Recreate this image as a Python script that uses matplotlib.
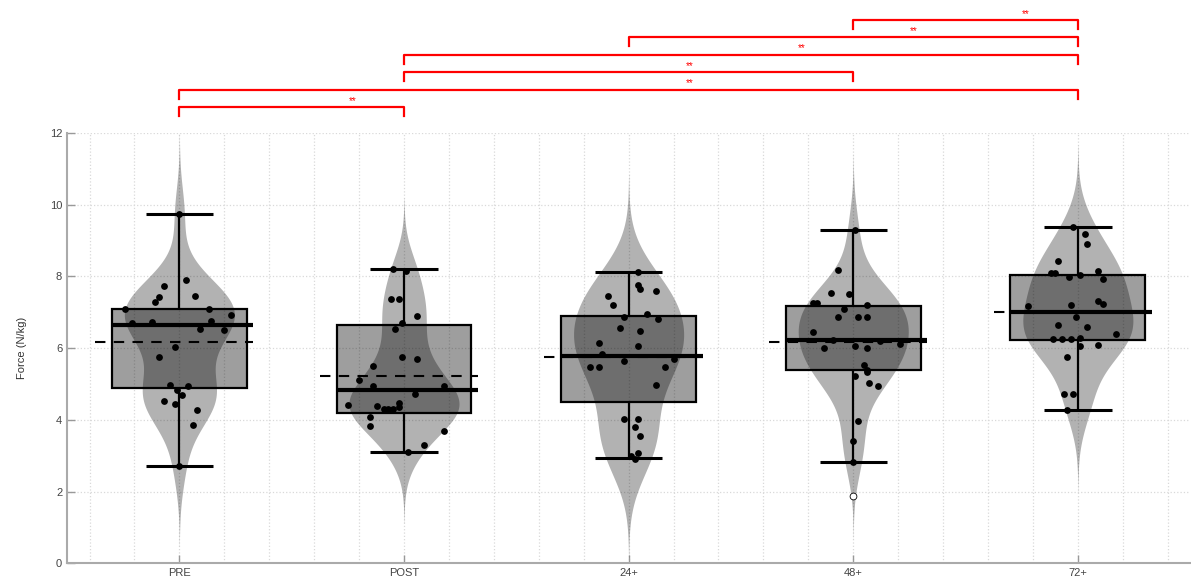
import numpy as np
import matplotlib.pyplot as plt
from matplotlib.patches import Rectangle

plt.rcParams['font.family'] = ['Liberation Sans', 'DejaVu Sans']

groups = ['PRE', 'POST', '24+', '48+', '72+']

# box stats
q1 = [4.89, 4.19, 4.49, 5.39, 6.23]
q3 = [7.09, 6.65, 6.90, 7.16, 8.05]
med = [6.64, 4.84, 5.77, 6.23, 7.00]
mean = [6.18, 5.23, 5.74, 6.17, 7.00]
wlo = [2.71, 3.09, 2.93, 2.82, 4.28]
whi = [9.74, 8.21, 8.12, 9.28, 9.39]
outliers = [[], [], [], [1.88], []]

# individual points: (x offset, value)
pre_x = [0.00, 0.03, -0.07, 0.07, -0.09, -0.11, -0.24, 0.13, 0.23, -0.21, -0.12, 0.14, 0.09,
         0.20, -0.02, -0.09, -0.04, 0.04, -0.01, 0.01, -0.07, -0.02, 0.08, 0.06, 0.00]
pre_y = [9.74, 7.89, 7.72, 7.44, 7.43, 7.29, 7.10, 7.08, 6.91, 6.69, 6.72, 6.75, 6.53,
         6.50, 6.02, 5.76, 4.96, 4.95, 4.82, 4.69, 4.53, 4.45, 4.28, 3.85, 2.71]
post_x = [-0.05, 0.01, -0.06, -0.02, 0.06, -0.01, -0.04, -0.01, 0.06, -0.14, -0.20, -0.14, 0.18,
          0.05, -0.25, -0.12, -0.09, -0.07, -0.05, -0.02, -0.02, -0.15, -0.15, 0.18, 0.09, 0.02]
post_y = [8.21, 8.16, 7.38, 7.38, 6.90, 6.71, 6.54, 5.74, 5.70, 5.50, 5.11, 4.93, 4.95,
          4.71, 4.42, 4.39, 4.30, 4.30, 4.30, 4.46, 4.37, 4.09, 3.84, 3.70, 3.30, 3.09]
h24_x = [0.04, 0.04, 0.05, 0.12, -0.09, -0.07, -0.02, 0.08, 0.13, -0.04, 0.05, -0.13, 0.04, -0.12,
         -0.02, 0.20, -0.17, -0.13, 0.16, 0.12, -0.02, 0.04, 0.03, 0.05, 0.04, 0.01, 0.03]
h24_y = [8.12, 7.76, 7.64, 7.60, 7.44, 7.19, 6.86, 6.95, 6.81, 6.57, 6.49, 6.15, 6.07, 5.83,
         5.64, 5.69, 5.48, 5.46, 5.47, 4.97, 4.02, 4.02, 3.81, 3.56, 3.07, 2.99, 2.90]
h48_x = [0.01, -0.07, -0.10, -0.02, -0.18, -0.16, 0.06, -0.04, -0.07, 0.02, 0.06, -0.18, -0.09, 0.12,
         -0.13, 0.01, 0.06, 0.21, 0.05, 0.06, 0.06, 0.01, 0.07, 0.11, 0.02, 0.00, 0.00]
h48_y = [9.28, 8.18, 7.53, 7.50, 7.25, 7.25, 7.20, 7.08, 6.86, 6.86, 6.88, 6.46, 6.22, 6.20,
         6.00, 6.06, 6.00, 6.12, 5.53, 5.39, 5.32, 5.23, 5.02, 4.93, 3.98, 3.41, 2.82]
h72_x = [-0.02, 0.03, 0.04, -0.09, -0.12, -0.10, 0.01, -0.04, 0.09, 0.11, 0.09, 0.11, -0.03, -0.22,
         -0.01, -0.09, 0.04, 0.17, -0.11, -0.07, -0.03, 0.01, 0.01, 0.09, -0.05, -0.06, -0.02, -0.05]
h72_y = [9.39, 9.19, 8.91, 8.43, 8.09, 8.09, 8.04, 7.97, 8.15, 7.92, 7.30, 7.23, 7.20, 7.16,
         6.88, 6.63, 6.60, 6.39, 6.25, 6.25, 6.25, 6.29, 6.07, 6.09, 5.75, 4.72, 4.72, 4.28]
pts_x = [pre_x, post_x, h24_x, h48_x, h72_x]
pts_y = [pre_y, post_y, h24_y, h48_y, h72_y]

# significance brackets, bottom to top
pairs = [(1, 2), (1, 5), (2, 4), (2, 5), (3, 5), (4, 5)]
stars = ['**'] * 6

fig = plt.figure(figsize=(11.91, 5.88), dpi=100)
ax = fig.add_axes([0.0563, 0.042, 0.943, 0.732])

for i in range(5):
    c = i + 1
    y = np.array(pts_y[i])
    # violin from gaussian kde (MATLAB-like bandwidth)
    sig = np.median(np.abs(y - np.median(y))) / 0.6745
    bw = sig * (4 / (3 * len(y))) ** 0.2
    yy = np.linspace(y.min() - 3 * bw, y.max() + 3 * bw, 200)
    dens = np.exp(-0.5 * ((yy[:, None] - y[None, :]) / bw) ** 2).sum(axis=1)
    hw = 0.245 * dens / dens.max()
    ax.fill_betweenx(yy, c - hw, c + hw, color='k', alpha=0.3, lw=0, zorder=2)

    ax.add_patch(Rectangle((c - 0.3, q1[i]), 0.6, q3[i] - q1[i], facecolor=(0, 0, 0, 0.38),
                           edgecolor='k', lw=1.6, zorder=3))
    ax.vlines(c, q3[i], whi[i], color='k', lw=1.6, zorder=3)
    ax.vlines(c, wlo[i], q1[i], color='k', lw=1.6, zorder=3)
    ax.hlines([wlo[i], whi[i]], c - 0.15, c + 0.15, color='k', lw=2.2, zorder=3)
    ax.hlines(mean[i], c - 0.375, c + 0.33, color='k', lw=1.5, linestyles=(0, (5, 4)), zorder=4)
    ax.hlines(med[i], c - 0.3, c + 0.33, color='k', lw=3, zorder=4)
    ax.scatter(c + np.array(pts_x[i]), y, s=24, color='k', zorder=5, lw=0)
    if outliers[i]:
        ax.scatter([c] * len(outliers[i]), outliers[i], s=24, facecolor='white',
                   edgecolor='k', lw=0.6, zorder=5)

for k, ((a, b), s) in enumerate(zip(pairs, stars)):
    lev = 12.72 + 0.485 * k
    ax.plot([a, a, b, b], [lev - 0.25, lev, lev, lev - 0.25], color='red', lw=1.6,
            clip_on=False, zorder=6)
    ax.text((a + b) / 2 + 0.27, lev + 0.04, s, color='red', fontsize=7, ha='center',
            va='bottom', clip_on=False)

ax.set_xlim(0.5, 5.5)
ax.set_ylim(0, 12)
ax.set_xticks(range(1, 6))
ax.set_xticklabels(groups)
ax.set_xticks(np.arange(0.6, 5.5, 0.2), minor=True)
ax.set_yticks(range(0, 13, 2))
ax.tick_params(axis='both', which='major', direction='in', length=6, color='#999999',
               labelcolor='#444444', labelsize=8, width=1)
ax.tick_params(axis='x', which='minor', length=0)
ax.grid(True, which='both', axis='x', color='#d9d9d9', ls=':', lw=0.9)
ax.grid(True, which='major', axis='y', color='#d9d9d9', ls=':', lw=0.9)
ax.set_axisbelow(True)
for sp in ['top', 'right']:
    ax.spines[sp].set_visible(False)
for sp in ['left', 'bottom']:
    ax.spines[sp].set_color('#aaaaaa')
    ax.spines[sp].set_linewidth(1.5)
ax.set_ylabel('Force (N/kg)', fontsize=8, color='#333333', labelpad=16)

fig.savefig('out.png', dpi=100)
